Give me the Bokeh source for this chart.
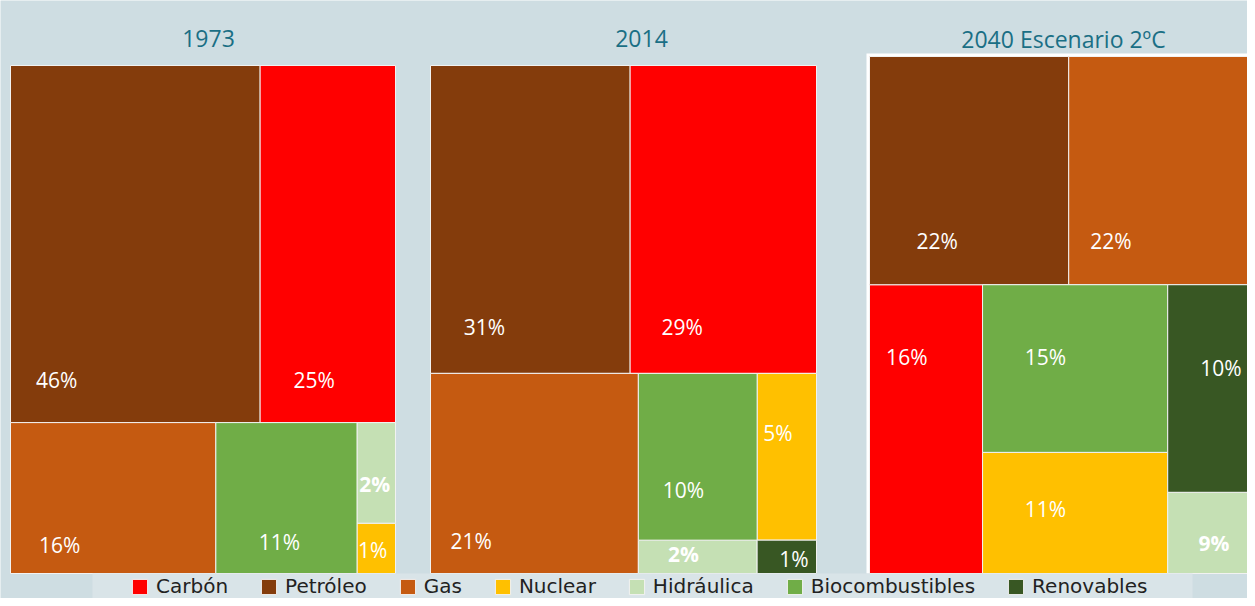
from bokeh.plotting import figure
from bokeh.models import Range1d, ColumnDataSource, Legend, LegendItem
from bokeh.core.properties import value
from bokeh.embed import file_html
from bokeh.resources import INLINE

# ---------------- data ----------------
categories = ["Carbón", "Petróleo", "Gas", "Nuclear", "Hidráulica", "Biocombustibles", "Renovables"]
colors = ["#ff0000", "#843c0c", "#c55a11", "#ffc000", "#c5e0b4", "#70ad47", "#385723"]
panel_titles = ["1973", "2014", "2040 Escenario 2ºC"]
share_1973 = [25, 46, 16, 1, 2, 11, 0]
share_2014 = [29, 31, 21, 5, 2, 10, 1]
share_2040 = [16, 22, 22, 11, 9, 15, 10]
# tile areas as drawn in the source for 2040 (tiles there are not proportional to labels)
area_2040 = [16.3, 22.7, 21.4, 11.2, 3.6, 15.5, 9.2]

# ---------------- layout ----------------
BG = "#cedde2"
BAND = "#d9e4e8"
TITLE_COLOR = "#1a6f85"

panels = [
    dict(title=panel_titles[0], labels=share_1973, sizes=share_1973, box=(10, 65, 395, 573), tx=208,
         rows=[[["Petróleo"], ["Carbón"]], [["Gas"], ["Biocombustibles"], ["Hidráulica", "Nuclear"]]],
         lab={"Petróleo": (0.185, 0.88), "Carbón": (0.40, 0.88), "Gas": (0.24, 0.81),
              "Biocombustibles": (0.45, 0.79), "Hidráulica": (0.46, 0.61), "Nuclear": (0.41, 0.53)}),
    dict(title=panel_titles[1], labels=share_2014, sizes=share_2014, box=(430, 65, 816, 573), tx=641,
         rows=[[["Petróleo"], ["Carbón"]], [["Gas"], ["Biocombustibles", "Hidráulica"], ["Nuclear", "Renovables"]]],
         lab={"Petróleo": (0.27, 0.85), "Carbón": (0.28, 0.85), "Gas": (0.196, 0.84),
              "Biocombustibles": (0.38, 0.70), "Nuclear": (0.35, 0.36), "Hidráulica": (0.38, 0.42),
              "Renovables": (0.62, 0.58)}),
    dict(title=panel_titles[2], labels=share_2040, sizes=area_2040, box=(869, 56, 1256, 573), tx=1063,
         rows=[[["Petróleo"], ["Gas"]], [["Carbón"], ["Biocombustibles", "Nuclear"], ["Renovables", "Hidráulica"]]],
         lab={"Petróleo": (0.34, 0.81), "Gas": (0.225, 0.81), "Carbón": (0.33, 0.25),
              "Biocombustibles": (0.34, 0.43), "Renovables": (0.60, 0.40), "Nuclear": (0.34, 0.47),
              "Hidráulica": (0.52, 0.63)}),
]


def treemap(box, rows, size):
    x0, y0, x1, y1 = box
    total = sum(size[c] for row in rows for col in row for c in col)
    out = {}
    y = y0
    for row in rows:
        rsum = sum(size[c] for col in row for c in col)
        h = (y1 - y0) * rsum / total
        x = x0
        for col in row:
            csum = sum(size[c] for c in col)
            w = (x1 - x0) * csum / rsum
            yy = y
            for c in col:
                hh = h * size[c] / csum
                out[c] = (x, yy, x + w, yy + hh)
                yy += hh
            x += w
        y += h
    return out


p = figure(width=1247, height=598, x_range=Range1d(0, 1247), y_range=Range1d(598, 0),
           output_backend="svg", toolbar_location=None, min_border=0,
           background_fill_color=BG, border_fill_color=BG, outline_line_color=None,
           x_axis_location=None, y_axis_location=None)
p.grid.visible = False

# white frame behind third panel
p.quad(left=[866], right=[1260], top=[53], bottom=[573], fill_color="white", line_color=None)

tiles = {c: dict(left=[], right=[], top=[], bottom=[]) for c in categories}
lab_norm = dict(x=[], y=[], t=[])
lab_bold = dict(x=[], y=[], t=[])
titles = dict(x=[], y=[], t=[])

for pan in panels:
    size = {c: v for c, v in zip(categories, pan["sizes"])}
    shares = {c: v for c, v in zip(categories, pan["labels"])}
    rects = treemap(pan["box"], pan["rows"], size)
    for c, (l, t, r, b) in rects.items():
        tiles[c]["left"].append(l)
        tiles[c]["right"].append(r)
        tiles[c]["top"].append(t)
        tiles[c]["bottom"].append(b)
        fx, fy = pan["lab"][c]
        target = lab_bold if c == "Hidráulica" else lab_norm
        target["x"].append(l + fx * (r - l))
        target["y"].append(t + fy * (b - t))
        target["t"].append(f"{shares[c]}%")
    titles["x"].append(pan["tx"])
    titles["y"].append(38)
    titles["t"].append(pan["title"])

renderers = {}
for c, col in zip(categories, colors):
    renderers[c] = p.quad(left="left", right="right", top="top", bottom="bottom",
                          source=ColumnDataSource(tiles[c]), fill_color=col,
                          line_color="#f2f2f2", line_width=1)

p.text(x="x", y="y", text="t", source=ColumnDataSource(lab_norm), text_color="white",
       text_font=value("Open Sans"), text_font_size="21px", text_align="center",
       text_baseline="middle")
p.text(x="x", y="y", text="t", source=ColumnDataSource(lab_bold), text_color="white",
       text_font=value("Open Sans"), text_font_size="21px", text_font_style="bold",
       text_align="center", text_baseline="middle")
p.text(x="x", y="y", text="t", source=ColumnDataSource(titles), text_color=TITLE_COLOR,
       text_font=value("Open Sans"), text_font_size="23px", text_align="center",
       text_baseline="alphabetic")

# legend band
p.quad(left=[92], right=[1192], top=[573], bottom=[600], fill_color=BAND, line_color=None)

legend = Legend(items=[LegendItem(label=c, renderers=[renderers[c]]) for c in categories],
                orientation="horizontal", location=(130, 0), padding=0, margin=0,
                spacing=31, label_standoff=7, glyph_width=19, glyph_height=19,
                label_text_font="DejaVu Sans", label_text_font_size="20px",
                label_text_color="#222222", background_fill_alpha=0, border_line_color=None)
p.add_layout(legend)

open("out.html", "w").write(file_html(p, INLINE))
